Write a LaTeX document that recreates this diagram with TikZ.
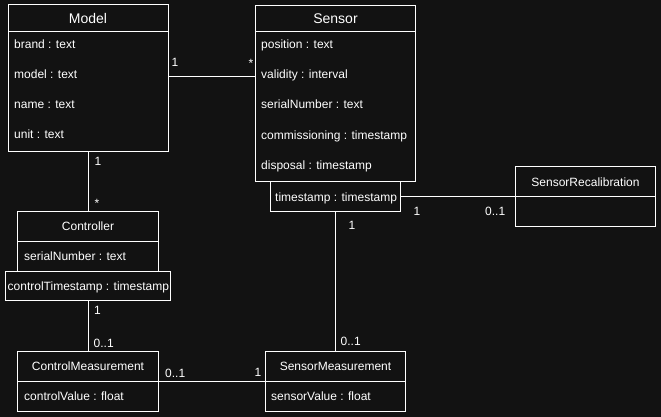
\documentclass[tikz,border=0pt]{standalone}
\usepackage{fontspec}
\setmainfont{Liberation Sans}
\definecolor{bg}{HTML}{121212}
\begin{document}
\begin{tikzpicture}[x=1pt,y=-1pt,
  box/.style={draw=white,fill=bg,line width=1pt,inner sep=0pt,outer sep=0pt,anchor=north west},
  txt/.style={text=white,font=\fontsize{12}{14}\selectfont,inner sep=0pt,anchor=base west},
  ttl/.style={text=white,font=\fontsize{12}{14}\selectfont,inner sep=0pt,anchor=base},
  big/.style={ttl,font=\fontsize{14}{16}\selectfont},
  con/.style={draw=white,line width=1pt}]
\fill[bg] (0,0) rectangle (661,417);
\useasboundingbox (0,0) rectangle (661,417);
% boxes
\node[box,minimum width=160,minimum height=146] (model) at (8,5) {};
\node[box,minimum width=160,minimum height=176] (sensor) at (255.5,5.5) {};
\node[box,minimum width=130,minimum height=29.5] (ts) at (270.5,181.5) {};
\node[box,minimum width=140,minimum height=60] (recal) at (515.5,166.5) {};
\node[box,minimum width=141,minimum height=59.5] (ctrl) at (17.5,211.5) {};
\node[box,minimum width=165,minimum height=29.5] (cts) at (5.5,271) {};
\node[box,minimum width=141,minimum height=60] (cm) at (17.5,351.5) {};
\node[box,minimum width=140,minimum height=60] (sm) at (265.5,351.5) {};
% header separators
\coordinate (h1) at (0,31.5);
\coordinate (h2) at (0,196.5);
\coordinate (h3) at (0,241.5);
\coordinate (h4) at (0,381.5);
\draw[con] (model.west |- h1) -- (model.east |- h1);
\draw[con] (sensor.west |- h1) -- (sensor.east |- h1);
\draw[con] (recal.west |- h2) -- (recal.east |- h2);
\draw[con] (ctrl.west |- h3) -- (ctrl.east |- h3);
\draw[con] (cm.west |- h4) -- (cm.east |- h4);
\draw[con] (sm.west |- h4) -- (sm.east |- h4);
% texts
\node[big] (tmodel) at (88,24) {Model};
\node[txt] (m1) at (14,48.5) {brand : text};
\node[txt] (m2) at (14,78.5) {model : text};
\node[txt] (m3) at (14,108.5) {name : text};
\node[txt] (m4) at (14,138.5) {unit : text};
\node[big] (tsensor) at (335.5,24) {Sensor};
\node[txt] (s1) at (261,49) {position : text};
\node[txt] (s2) at (261,79) {validity : interval};
\node[txt] (s3) at (261,109) {serialNumber : text};
\node[txt] (s4) at (261,139.5) {commissioning : timestamp};
\node[txt] (s5) at (261,169.5) {disposal : timestamp};
\node[txt] (tst) at (275,201) {timestamp : timestamp};
\node[ttl] (trecal) at (585.5,186.5) {SensorRecalibration};
\node[ttl] (tctrl) at (88,230) {Controller};
\node[txt] (c1) at (24,260.5) {serialNumber : text};
\node[txt] (c2) at (7.5,290.5) {controlTimestamp : timestamp};
\node[ttl] (tcm) at (88,370) {ControlMeasurement};
\node[txt] (cm1) at (24,400) {controlValue : float};
\node[ttl] (tsm) at (335.5,370) {SensorMeasurement};
\node[txt] (sm1) at (271,400) {sensorValue : float};
% connectors
\coordinate (ms) at (0,76.5);
\draw[con] (model.east |- ms) -- (sensor.west |- ms);
\draw[con] (model.south) -- (ctrl.north);
\draw[con] (ts.east) -- (recal.west |- ts.east);
\draw[con] (ts.south) -- (sm.north);
\draw[con] (cts.south) -- (cm.north);
\draw[con] (cm.east) -- (sm.west);
% multiplicities
\node[txt] (l1) at (171.5,66.7) {1};
\node[txt] (l2) at (248.3,68) {*};
\node[txt] (l3) at (94.5,165.7) {1};
\node[txt] (l4) at (94.5,207.5) {*};
\node[txt] (l5) at (413.5,215) {1};
\node[txt] (l6) at (485,215) {0..1};
\node[txt] (l7) at (348.5,229.3) {1};
\node[txt] (l8) at (340.5,345.7) {0..1};
\node[txt] (l9) at (94,314) {1};
\node[txt] (l10) at (93.5,347.3) {0..1};
\node[txt] (l11) at (165,377) {0..1};
\node[txt] (l12) at (254.5,376.7) {1};
\end{tikzpicture}
\end{document}
